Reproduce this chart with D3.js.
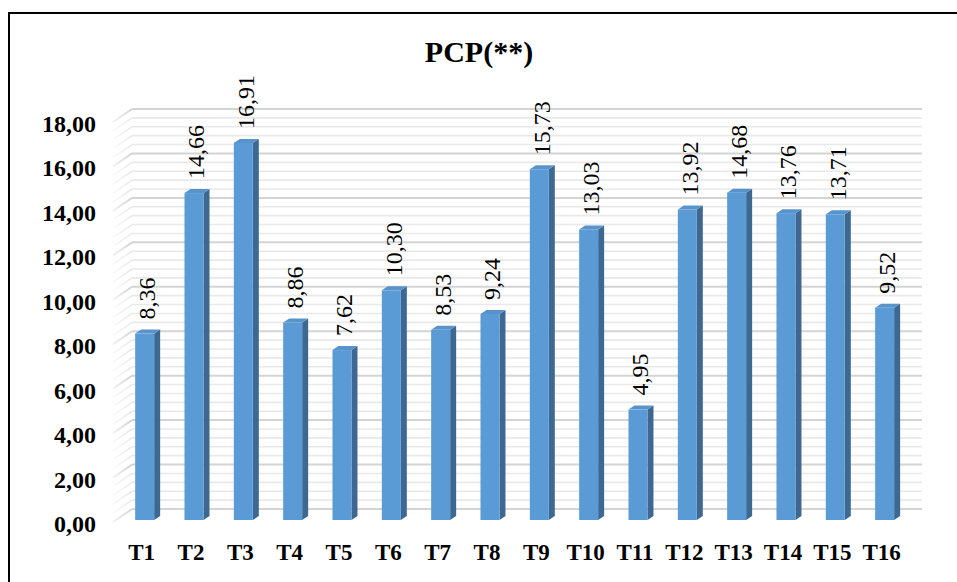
<!DOCTYPE html>
<html>
<head>
<meta charset="utf-8">
<script src="https://cdn.jsdelivr.net/npm/d3@7"></script>
<style>
  html, body { margin: 0; padding: 0; background: #fff; }
  svg { display: block; }
  text { font-family: "Liberation Serif", "Times New Roman", serif; }
</style>
</head>
<body>
<svg id="chart" width="957" height="582"></svg>
<script>
// PCP(**) by treatment
const title = "PCP(**)";
const categories = ["T1","T2","T3","T4","T5","T6","T7","T8","T9","T10","T11","T12","T13","T14","T15","T16"];
const values = [8.36, 14.66, 16.91, 8.86, 7.62, 10.30, 8.53, 9.24, 15.73, 13.03, 4.95, 13.92, 14.68, 13.76, 13.71, 9.52];
const yTicks = [0, 2, 4, 6, 8, 10, 12, 14, 16, 18];
const fmt = v => d3.format(".2f")(v).replace(".", ",");

const svg = d3.select("#chart");

// Outer frame (only top and left edges fall inside the window)
svg.append("rect").attr("x", 9).attr("y", 13).attr("width", 1200).attr("height", 1200)
  .attr("fill", "none").attr("stroke", "#000").attr("stroke-width", 2);

// 3D box: front plane and back wall, linked by a depth offset
const depth = { dx: 19, dy: -13 };
const yFront = d3.scaleLinear().domain([0, 18]).range([522, 122]);
const yBack = v => yFront(v) + depth.dy;
const wallLeft = 113, wallRight = 922;

// Gridline values: minor every 0.4, major every 2
const gridVals = d3.range(0, 45 + 1).map(i => +(i * 0.4).toFixed(2));
const isMajor = v => Math.abs(v / 2 - Math.round(v / 2)) < 1e-6;

const defs = svg.append("defs");
const gMaj = defs.append("linearGradient").attr("id", "sideMaj")
  .attr("gradientUnits", "userSpaceOnUse")
  .attr("x1", wallLeft).attr("x2", wallLeft + depth.dx).attr("y1", 0).attr("y2", 0);
gMaj.append("stop").attr("offset", 0).attr("stop-color", "#f2f2f2");
gMaj.append("stop").attr("offset", 1).attr("stop-color", "#d4d4d4");
const gMin = defs.append("linearGradient").attr("id", "sideMin")
  .attr("gradientUnits", "userSpaceOnUse")
  .attr("x1", wallLeft).attr("x2", wallLeft + depth.dx).attr("y1", 0).attr("y2", 0);
gMin.append("stop").attr("offset", 0).attr("stop-color", "#fafafa");
gMin.append("stop").attr("offset", 1).attr("stop-color", "#e8e8e8");

const grid = svg.append("g");
// back wall lines
grid.selectAll("line.back").data(gridVals).join("line")
  .attr("class", "back")
  .attr("x1", wallLeft + depth.dx).attr("x2", wallRight)
  .attr("y1", d => yBack(d)).attr("y2", d => yBack(d))
  .attr("stroke", d => isMajor(d) ? "#d4d4d4" : "#e9e9e9")
  .attr("stroke-width", d => isMajor(d) ? 2 : 1.6);
// side wall lines
grid.selectAll("line.side").data(gridVals).join("line")
  .attr("class", "side")
  .attr("x1", wallLeft).attr("y1", d => yFront(d))
  .attr("x2", wallLeft + depth.dx).attr("y2", d => yBack(d))
  .attr("stroke", d => isMajor(d) ? "url(#sideMaj)" : "url(#sideMin)")
  .attr("stroke-width", d => isMajor(d) ? 2 : 1.6);

// Bars
const x = d3.scaleBand().domain(categories).range([120, 909.3]).paddingInner(0.615).paddingOuter(0.3075);
const yBar = d3.scaleLinear().domain([0, 18]).range([520, 118.6]);
const bw = x.bandwidth();
const bd = { dx: 6, dy: -4 };
const rows = categories.map((c, i) => ({ c, v: values[i] }));

const bars = svg.append("g").selectAll("g").data(rows).join("g");
// side face
bars.append("path")
  .attr("d", d => {
    const x0 = x(d.c) + bw, yt = yBar(d.v), yb = yBar(0);
    return `M${x0},${yt}L${x0 + bd.dx},${yt + bd.dy}L${x0 + bd.dx},${yb + bd.dy}L${x0},${yb}Z`;
  })
  .attr("fill", "#3c6892");
// top face
bars.append("path")
  .attr("d", d => {
    const x0 = x(d.c), yt = yBar(d.v);
    return `M${x0},${yt}L${x0 + bw},${yt}L${x0 + bw + bd.dx},${yt + bd.dy}L${x0 + bd.dx},${yt + bd.dy}Z`;
  })
  .attr("fill", "#5893cc");
// front face
bars.append("rect")
  .attr("x", d => x(d.c)).attr("y", d => yBar(d.v))
  .attr("width", bw).attr("height", d => yBar(0) - yBar(d.v))
  .attr("fill", "#5b9bd5");

// Value labels, rotated
svg.append("g").selectAll("text").data(rows).join("text")
  .attr("transform", d => `translate(${x(d.c) + bw + 1},${yBar(d.v) - 14}) rotate(-90)`)
  .attr("font-size", 24).attr("font-weight", "normal")
  .attr("fill", "#000")
  .text(d => fmt(d.v));

// Y axis labels
svg.append("g").selectAll("text").data(yTicks).join("text")
  .attr("x", 96).attr("y", d => yFront(d) + 10)
  .attr("text-anchor", "end")
  .attr("font-size", 24).attr("font-weight", "bold")
  .text(d => fmt(d));

// X axis labels
svg.append("g").selectAll("text").data(categories).join("text")
  .attr("x", d => x(d) + bw / 2 - 3).attr("y", 560)
  .attr("text-anchor", "middle")
  .attr("font-size", 23).attr("font-weight", "bold")
  .text(d => d);

// Title
svg.append("text")
  .attr("x", 479).attr("y", 62)
  .attr("text-anchor", "middle")
  .attr("font-size", 30).attr("font-weight", "bold")
  .text(title);
</script>
</body>
</html>
